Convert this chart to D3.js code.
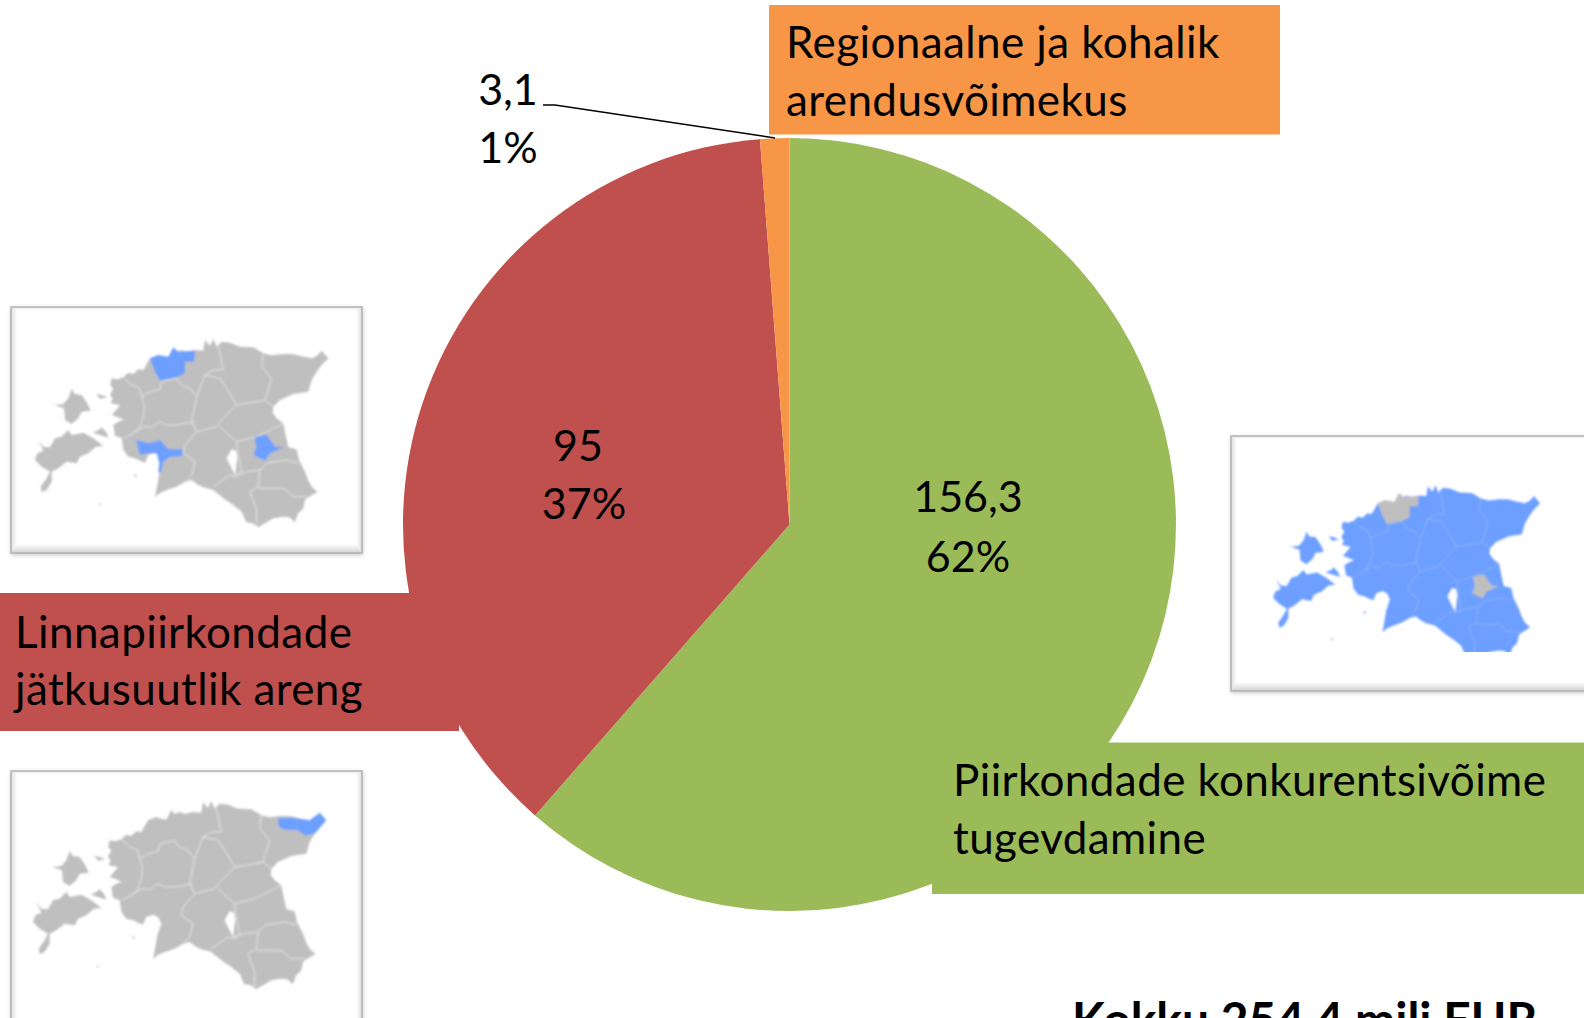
<!DOCTYPE html>
<html lang="et">
<head>
    <meta charset="UTF-8">
    <title>Kokku 254,4 milj EUR</title>
    <script src="https://d3js.org/d3.v7.min.js"></script>
    <style>
        html, body { margin: 0; background: #fff; overflow: hidden; }
        svg { display: block; }
        text { font-family: Lato, "Noto Sans", sans-serif; fill: #000; }
    </style>
</head>
<body>
<div id="chart"></div>
<script>
    // Andmed
    const categories = ["Piirkondade konkurentsivõime tugevdamine", "Linnapiirkondade jätkusuutlik areng", "Regionaalne ja kohalik arendusvõimekus"];
    const values = [156.3, 95, 3.1];
    const valueLabels = ["156,3", "95", "3,1"];
    const percentLabels = ["62%", "37%", "1%"];
    const colors = ["#9BBB59", "#C0504D", "#F79646"];
    const totalLabel = "Kokku 254,4 milj EUR";

    // Kaardi kontuurid, loetud pildilt (kaardi oma ühikutes)
    const mainland = [[335,265],[352,268],[370,262],[385,248],[400,252],[415,238],[430,240],[450,205],[475,195],[490,200],[505,203],[512,190],[520,174],[530,186],[545,180],[560,186],[585,180],[610,182],[615,150],[630,168],[640,147],[650,170],[665,155],[690,158],[720,170],[760,172],[790,190],[815,196],[850,192],[880,193],[910,200],[935,205],[950,198],[965,182],[985,205],[965,225],[950,245],[935,270],[925,305],[880,312],[840,330],[820,350],[818,368],[830,385],[850,400],[858,440],[865,472],[890,478],[897,510],[915,545],[925,572],[935,590],[952,606],[925,622],[915,630],[910,655],[893,672],[885,697],[868,682],[848,680],[820,685],[795,700],[775,712],[758,700],[738,696],[725,665],[700,645],[670,625],[640,600],[610,592],[595,585],[575,570],[555,575],[530,590],[500,600],[478,610],[465,622],[472,585],[478,550],[490,515],[480,495],[465,488],[445,495],[435,518],[420,512],[405,505],[385,500],[370,480],[365,445],[345,437],[340,405],[355,395],[372,390],[350,380],[335,375],[350,358],[360,345],[332,340],[338,325],[330,315],[340,295],[330,285]];
    const saaremaa = [[105,510],[112,490],[130,482],[115,450],[130,470],[150,472],[165,445],[185,440],[205,420],[215,435],[250,428],[280,445],[310,468],[288,470],[265,490],[240,500],[230,520],[200,515],[175,535],[155,545],[155,575],[140,600],[125,607],[122,590],[140,565],[150,545],[125,530]];
    const hiiumaa = [[138,337],[165,345],[190,342],[205,325],[215,297],[225,312],[245,315],[262,340],[272,362],[245,365],[235,385],[215,402],[195,390],[192,355]];
    const muhu = [[278,428],[295,420],[305,412],[320,428],[325,443],[300,435]];
    const vormsi = [[288,312],[305,315],[322,322],[300,326]];
    const kihnu = [[403,552],[411,555],[406,563]];
    const ruhnu = [[296,640],[304,642],[300,648]];
    const lake = [[695,478],[708,483],[712,500],[705,555],[695,535],[680,505]];
    const harju = [[450,205],[475,195],[505,200],[520,172],[535,185],[585,182],[582,215],[555,215],[555,250],[530,262],[480,272],[465,245]];
    const parnu = [[408,450],[450,460],[480,450],[505,478],[547,478],[547,498],[510,500],[490,515],[482,550],[475,545],[478,520],[470,490],[445,490],[420,495]];
    const tartu = [[762,440],[800,435],[825,470],[850,472],[810,490],[795,512],[760,495],[770,470]];
    const narva = [[840,198],[880,197],[935,205],[965,182],[985,205],[952,243],[922,251],[897,233],[862,233],[843,225]];
    const borders = [
        [[370,262],[395,285],[420,295],[425,320],[433,350],[430,380],[420,410],[400,430],[370,445]],
        [[425,320],[450,305],[480,298],[485,275],[530,265],[545,285],[570,295],[590,320]],
        [[590,320],[615,255],[640,240],[670,240],[655,170]],
        [[615,255],[660,265],[680,295],[710,345],[700,355],[660,395],[650,410],[590,425]],
        [[590,320],[575,395],[590,425],[555,465],[550,490],[585,515],[575,555],[560,570]],
        [[400,430],[430,410],[455,412],[480,395],[500,405],[530,405],[585,395]],
        [[790,190],[785,230],[815,265],[795,330],[820,350]],
        [[710,345],[770,335],[795,330]],
        [[660,410],[710,455],[770,440],[840,405],[850,400]],
        [[640,590],[690,555],[705,560],[740,545],[780,540],[800,520],[860,510],[895,520]],
        [[780,540],[775,590],[750,605],[770,660],[770,705]],
        [[775,595],[850,595],[880,620],[920,620]],
        [[710,455],[712,480]],
        [[705,555],[725,545],[712,480]]
    ];
    const islands = [saaremaa, hiiumaa, muhu, vormsi, kihnu, ruhnu];

    const width = 1584, height = 1018;
    const cx = 789.5, cy = 524.5, radius = 386.5;
    const grey = "#BFBFBF", blue = "#6C9FFF";

    const svg = d3.select("#chart").append("svg")
        .attr("width", width)
        .attr("height", height);

    const defs = svg.append("defs");
    defs.append("filter").attr("id", "soft")
        .append("feGaussianBlur").attr("stdDeviation", 0.8);
    defs.append("filter").attr("id", "cardShadow")
        .attr("x", "-5%").attr("y", "-5%").attr("width", "110%").attr("height", "110%")
        .append("feGaussianBlur").attr("stdDeviation", 2);

    function gradient(id, x2, y2, from, to) {
        const g = defs.append("linearGradient").attr("id", id)
            .attr("x1", 0).attr("y1", 0).attr("x2", x2).attr("y2", y2);
        g.append("stop").attr("offset", 0).attr("stop-color", from);
        g.append("stop").attr("offset", 1).attr("stop-color", to);
    }
    gradient("bevelBottom", 0, 1, "#ffffff", "#d2d2d2");
    gradient("bevelTop", 0, 1, "#e4e4e4", "#ffffff");
    gradient("bevelLeft", 1, 0, "#dedede", "#ffffff");
    gradient("bevelRight", 1, 0, "#ffffff", "#dedede");

    // Kaart koos raamiga
    function drawCard(card) {
        const g = svg.append("g");
        const l = card.x, t = card.y, r = card.x + card.w, b = card.y + card.h;
        const poly = d3.line();

        g.append("rect")
            .attr("x", l).attr("y", t + 1)
            .attr("width", card.w + 1).attr("height", card.h + 1)
            .attr("fill", "#999")
            .attr("opacity", 0.55)
            .attr("filter", "url(#cardShadow)");
        g.append("rect")
            .attr("x", l).attr("y", t)
            .attr("width", card.w).attr("height", card.h)
            .attr("fill", "#fff");

        const side = 6, top = 3, low = 9;
        g.append("path").attr("fill", "url(#bevelTop)")
            .attr("d", poly([[l, t], [r, t], [r - side, t + top], [l + side, t + top]]) + "Z");
        g.append("path").attr("fill", "url(#bevelLeft)")
            .attr("d", poly([[l, t], [l + side, t + top], [l + side, b - low], [l, b]]) + "Z");
        g.append("path").attr("fill", "url(#bevelRight)")
            .attr("d", poly([[r, t], [r, b], [r - side, b - low], [r - side, t + top]]) + "Z");
        g.append("path").attr("fill", "url(#bevelBottom)")
            .attr("d", poly([[l, b], [l + side, b - low], [r - side, b - low], [r, b]]) + "Z");
        g.append("rect")
            .attr("x", l).attr("y", t)
            .attr("width", card.w).attr("height", card.h)
            .attr("fill", "none")
            .attr("stroke", "#b2b2b2")
            .attr("stroke-width", 1.5);

        const x = d3.scaleLinear().domain([0, 1000]).range([card.ox, card.ox + 1000 * card.sx]);
        const y = d3.scaleLinear().domain([0, 1000]).range([card.oy, card.oy + 1000 * card.sy]);
        const line = d3.line().x(d => x(d[0])).y(d => y(d[1]));
        const area = d => line(d) + "Z";

        const clipped = g.append("g");
        if (card.clip) {
            defs.append("clipPath").attr("id", card.clip.id)
                .append("rect")
                .attr("x", card.clip.x).attr("y", card.clip.y)
                .attr("width", card.clip.w).attr("height", card.clip.h);
            clipped.attr("clip-path", "url(#" + card.clip.id + ")");
        }
        const map = clipped.append("g").attr("filter", "url(#soft)");

        map.selectAll(".land")
            .data([mainland].concat(islands))
            .enter().append("path")
            .attr("class", "land")
            .attr("d", area)
            .attr("fill", card.base);

        map.selectAll(".mark")
            .data(card.marked)
            .enter().append("path")
            .attr("class", "mark")
            .attr("d", area)
            .attr("fill", card.accent);

        map.selectAll(".border")
            .data(borders)
            .enter().append("path")
            .attr("class", "border")
            .attr("d", line)
            .attr("fill", "none")
            .attr("stroke", card.borderColor)
            .attr("stroke-width", 1);

        map.append("path")
            .attr("d", area(lake))
            .attr("fill", "#fff");
    }

    drawCard({ x: 11, y: 307, w: 351, h: 246, ox: 0, oy: 290, sx: 1 / 3, sy: 1 / 3,
        base: grey, accent: blue, marked: [harju, parnu, tartu], borderColor: "#e6e6e6" });
    drawCard({ x: 11, y: 771, w: 351, h: 260, ox: -2, oy: 752, sx: 1 / 3, sy: 1 / 3,
        base: grey, accent: blue, marked: [narva], borderColor: "#e6e6e6" });
    drawCard({ x: 1231, y: 436, w: 370, h: 255, ox: 1241.3, oy: 439.7, sx: 0.91 / 3, sy: 0.93 / 3,
        base: blue, accent: grey, marked: [harju, tartu], borderColor: "#8fb4f5",
        clip: { id: "cardClip", x: 1232, y: 437, w: 352, h: 215 } });

    // Sektordiagramm
    const pie = d3.pie().sort(null).value(d => d)(values);
    const arc = d3.arc().innerRadius(0).outerRadius(radius);

    svg.append("g")
        .attr("transform", "translate(" + cx + "," + cy + ")")
        .selectAll("path")
        .data(pie)
        .enter().append("path")
        .attr("d", arc)
        .attr("fill", (d, i) => colors[i]);

    // Kategooriate sildid
    const boxes = [
        { x: 932, y: 742.5, w: 652, h: 151.5, tx: 953, lines: ["Piirkondade konkurentsivõime", "tugevdamine"], base: [796, 854] },
        { x: 0, y: 593, w: 459, h: 138, tx: 15, lines: ["Linnapiirkondade", "jätkusuutlik areng"], base: [648, 705] },
        { x: 769, y: 5, w: 511, h: 129.5, tx: 786, lines: ["Regionaalne ja kohalik", "arendusvõimekus"], base: [58, 116] }
    ];

    boxes.forEach((b, i) => {
        svg.append("rect")
            .attr("x", b.x).attr("y", b.y)
            .attr("width", b.w).attr("height", b.h)
            .attr("fill", colors[i]);
        b.lines.forEach((t, j) => {
            svg.append("text")
                .attr("class", "cat")
                .attr("x", b.tx).attr("y", b.base[j])
                .attr("font-size", 44)
                .attr("letter-spacing", 0.4)
                .text(t);
        });
    });

    // Väärtuste sildid
    const dataLabels = [
        { x: 968, y: [512, 572] },
        { x: [578, 584], y: [461, 519] },
        { x: 508, y: [105, 163] }
    ];

    dataLabels.forEach((l, i) => {
        [valueLabels[i], percentLabels[i]].forEach((t, j) => {
            svg.append("text")
                .attr("x", Array.isArray(l.x) ? l.x[j] : l.x)
                .attr("y", l.y[j])
                .attr("text-anchor", "middle")
                .attr("font-size", 43)
                .text(t);
        });
    });

    // Juhtjoon väikesele sektorile
    svg.append("path")
        .attr("d", d3.line()([[543, 105], [555, 105], [775, 138]]))
        .attr("fill", "none")
        .attr("stroke", "#000")
        .attr("stroke-width", 1.5);

    svg.append("text")
        .attr("x", 1072).attr("y", 1037)
        .attr("font-size", 48)
        .attr("font-weight", "bold")
        .text(totalLabel);
</script>
</body>
</html>
